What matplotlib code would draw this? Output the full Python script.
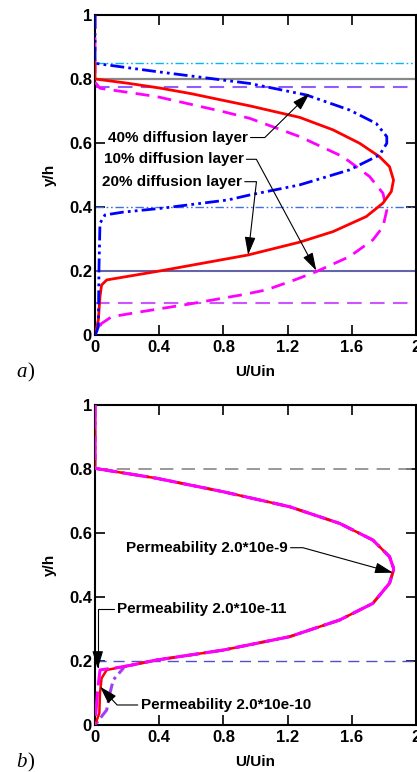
import matplotlib
matplotlib.use("Agg")
import matplotlib.pyplot as plt
from matplotlib.ticker import FixedLocator

plt.rcParams["font.family"] = ["Liberation Sans", "DejaVu Sans"]
plt.rcParams["font.weight"] = "bold"

# ---- panel a: velocity profiles for different diffusion layer widths ----
blue_x = [0, 0, 0.384, 0.964, 1.317, 1.586, 1.752, 1.818, 1.818, 1.773, 1.586, 1.275,
          0.964, 0.829, 0.415, 0.176, 0.062, 0.031, 0.025, 0.021, 0.01, 0]
blue_y = [1.0, 0.849, 0.823, 0.786, 0.750, 0.703, 0.661, 0.620, 0.599, 0.5625, 0.516, 0.469,
          0.4375, 0.422, 0.396, 0.384, 0.375, 0.349, 0.213, 0.026, 0.01, 0]

red_x = [0, 0, 0.2, 0.4, 0.6, 0.8, 0.964, 1.275, 1.483, 1.649, 1.773, 1.835, 1.86, 1.846,
         1.794, 1.69, 1.483, 1.275, 0.954, 0.415, 0.073, 0.041, 0.031, 0.021, 0]
red_y = [0.85, 0.8, 0.787, 0.772, 0.754, 0.733, 0.716, 0.680, 0.641, 0.599, 0.557, 0.526,
         0.484, 0.448, 0.412, 0.370, 0.323, 0.290, 0.250, 0.201, 0.172, 0.156, 0.120, 0.047, 0]

mag_x = [0, 0, 0.031, 0.384, 0.798, 0.964, 1.275, 1.545, 1.711, 1.794, 1.818, 1.794, 1.731,
         1.586, 1.379, 1.244, 1.068, 0.933, 0.58, 0.28, 0.104, 0.041, 0.02, 0]
mag_y = [1.0, 0.79, 0.771, 0.745, 0.698, 0.677, 0.620, 0.557, 0.495, 0.443, 0.390, 0.338, 0.297,
         0.245, 0.198, 0.172, 0.141, 0.127, 0.096, 0.072, 0.057, 0.036, 0.02, 0]

# reference levels (y/h) drawn across panel a
a_levels = [0.85, 0.8, 0.775, 0.4, 0.2, 0.1]

a_labels = ["40% diffusion layer", "10% diffusion layer", "20% diffusion layer"]
a_text_xy = [(0.516, 0.617), (0.49, 0.549), (0.48, 0.479)]
a_head_xy = [(1.337, 0.755), (1.379, 0.201), (0.954, 0.25)]
a_angle = [44.6, -61.7, -96.5]

# ---- panel b: velocity profiles for different permeabilities ----
top_x = [0, 0, 0.384, 0.798, 1.213, 1.524, 1.731, 1.835, 1.86, 1.86, 1.835, 1.731,
         1.524, 1.213, 0.798, 0.384, 0.176]
top_y = [1.0, 0.802, 0.771, 0.729, 0.682, 0.630, 0.578, 0.526, 0.490, 0.484, 0.443, 0.380,
         0.328, 0.276, 0.234, 0.203, 0.182]

p11_x = top_x + [0.031, 0.015, 0]
p11_y = top_y + [0.172, 0.1, 0]
p10_x = top_x + [0.073, 0.041, 0.031, 0.027, 0]
p10_y = top_y + [0.172, 0.146, 0.099, 0.037, 0]
p9_x = top_x + [0.176, 0.114, 0.093, 0.073, 0]
p9_y = top_y + [0.177, 0.141, 0.099, 0.047, 0]

b_labels = ["Permeability 2.0*10e-9", "Permeability 2.0*10e-11", "Permeability 2.0*10e-10"]
b_text_xy = [(0.697, 0.554), (0.664, 0.3625), (0.814, 0.0625)]
b_head_xy = [(1.856, 0.476), (0.017, 0.175), (0.031, 0.12)]
b_angle = [-15.5, 90, 133]
b_side = [1, 0, 0]

x_ticks = [0, 0.4, 0.8, 1.2, 1.6, 2]
x_ticklabels = ["0", "0.4", "0.8", "1.2", "1.6", "2"]
y_ticks = [0, 0.2, 0.4, 0.6, 0.8, 1]
y_ticklabels = ["0", "0.2", "0.4", "0.6", "0.8", "1"]

DDOT = (0, (6, 2, 1.2, 2, 1.2, 2))


def style_axes(ax):
    ax.set_xlim(0, 2)
    ax.set_ylim(0, 1)
    ax.xaxis.set_major_locator(FixedLocator(x_ticks))
    ax.yaxis.set_major_locator(FixedLocator(y_ticks))
    ax.set_xticklabels(x_ticklabels)
    ax.set_yticklabels(y_ticklabels)
    ax.tick_params(direction="in", length=7, width=1.2, top=True, right=True,
                   labelsize=12)
    ax.tick_params(axis="x", pad=3.5)
    ax.tick_params(axis="y", pad=2.2)
    for s in ax.spines.values():
        s.set_linewidth(1.5)
    ax.set_xlabel("U/Uin", fontsize=11, fontweight="bold", labelpad=7.5)
    ax.set_ylabel("y/h", fontsize=11, fontweight="bold", labelpad=9)


def annotate(ax, labels, text_xy, head_xy, angles, sides):
    for lab, txy, hxy, ang, side in zip(labels, text_xy, head_xy, angles, sides):
        ax.annotate(lab, xy=hxy, xytext=txy, ha="center", va="center",
                    fontsize=11, fontweight="bold", zorder=6,
                    arrowprops=dict(arrowstyle="-|>,head_length=1.0,head_width=0.3",
                                    color="black", lw=0.8, shrinkA=0, shrinkB=0,
                                    relpos=(side, 0.5),
                                    connectionstyle=f"angle,angleA=0,angleB={ang},rad=0"))


fig = plt.figure(figsize=(4.17, 7.72), dpi=100)
ax1 = fig.add_axes([0.2278, 0.5661, 0.7698, 0.4145])
ax2 = fig.add_axes([0.2278, 0.0609, 0.7698, 0.4145])

# panel a
lvl_styles = [dict(color="#00B4FF", lw=1.0, ls=DDOT),
              dict(color="#888888", lw=1.6, ls="-"),
              dict(color="#8F5CFF", lw=1.5, ls=(0, (7, 4))),
              dict(color="#3F6FE0", lw=1.0, ls=DDOT),
              dict(color="#6464AA", lw=1.5, ls="-"),
              dict(color="#CC55FF", lw=1.5, ls=(0, (7, 4)))]
for lvl, st in zip(a_levels, lvl_styles):
    ax1.axhline(lvl, zorder=2, **st)
ax1.plot(mag_x, mag_y, color="#FF00FF", lw=2.0, ls=(0, (5, 3)), zorder=3)
ax1.plot(red_x, red_y, color="#FF0000", lw=2.0, zorder=4)
ax1.plot(blue_x, blue_y, color="#0000FF", lw=2.0, ls=(0, (5, 1.5, 1, 1.5, 1, 1.5)), zorder=5)
style_axes(ax1)
annotate(ax1, a_labels, a_text_xy, a_head_xy, a_angle, [1, 1, 1])

# panel b
ax2.axhline(0.8, color="#888888", lw=1.2, ls=(0, (8, 5)), zorder=2)
ax2.axhline(0.2, color="#5050CC", lw=1.0, ls=(0, (8, 5)), zorder=2)
ax2.plot(p9_x, p9_y, color="#A040F0", lw=2.2, ls=(0, (4, 1.5, 1, 1.5)), zorder=3)
ax2.plot(p10_x, p10_y, color="#FF0000", lw=1.8, zorder=4)
ax2.plot(p11_x, p11_y, color="#FF00FF", lw=2.2, ls=(0, (8, 2)), zorder=5)
style_axes(ax2)
annotate(ax2, b_labels, b_text_xy, b_head_xy, b_angle, b_side)

for lab, yy in (("a", 0.517), ("b", 0.012)):
    fig.text(0.065, yy, lab, fontsize=15, family="Liberation Serif",
             style="italic", weight="normal", ha="right", va="center")
    fig.text(0.065, yy, ")", fontsize=15, family="Liberation Serif",
             weight="normal", ha="left", va="center")

fig.savefig("out.png", dpi=100)
